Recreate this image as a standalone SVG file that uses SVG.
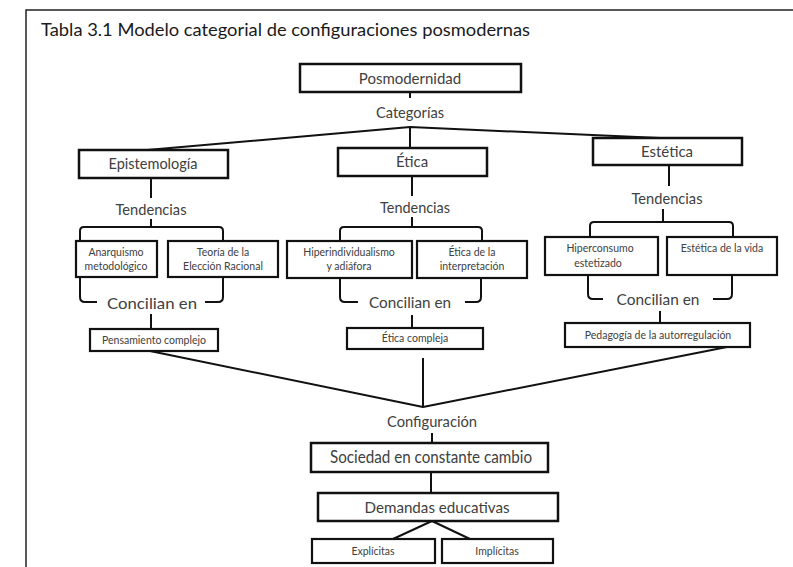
<svg xmlns="http://www.w3.org/2000/svg" width="793" height="567" viewBox="0 0 793 567">
  <style>
    text { font-family: Lato, "Open Sans", "Liberation Sans", sans-serif; fill: #404040; text-anchor: middle; }
    .title { fill: #1a1a1a; text-anchor: start; font-size: 18px; }
    .big { font-size: 15px; }
    .mid { font-size: 16px; }
    .small { font-size: 10.5px; }
    .box { fill: #fff; stroke: #111; stroke-width: 2.5; }
    .sbox { fill: #fff; stroke: #111; stroke-width: 2.2; }
    .wire { fill: none; stroke: #111; stroke-width: 2; stroke-linejoin: round; }
  </style>

  <rect width="793" height="567" fill="#fff"/>
  <!-- outer frame -->
  <path d="M26 567 V10 H793" fill="none" stroke="#222" stroke-width="1.5"/>
  <text class="title" x="41" y="36" textLength="489" lengthAdjust="spacingAndGlyphs">Tabla 3.1 Modelo categorial de configuraciones posmodernas</text>

  <!-- connectors -->
  <g id="connectors" class="wire">
    <path d="M410 92 V98"/>
    <path d="M147 150 L410 127 L660 138"/>
    <path d="M410 127 V148"/>
    <!-- epistemologia column -->
    <path d="M151 178 V198"/>
    <path d="M151 219 V227"/>
    <path d="M80 241 V231 Q80 227 84 227 H219 Q223 227 223 231 V241"/>
    <path d="M80 277 V297 Q80 302 85 302 H97"/>
    <path d="M223 277 V297 Q223 302 218 302 H205"/>
    <path d="M151 314 V329"/>
    <!-- etica column -->
    <path d="M412 176 V196"/>
    <path d="M412 217 V227"/>
    <path d="M340 241 V231 Q340 227 344 227 H478 Q482 227 482 231 V241"/>
    <path d="M340 278 V297 Q340 302 345 302 H358"/>
    <path d="M481 278 V297 Q481 302 476 302 H465"/>
    <path d="M412 315 V328"/>
    <!-- estetica column -->
    <path d="M669 165 V186"/>
    <path d="M663 209 V222"/>
    <path d="M590 237 V226 Q590 222 594 222 H729 Q733 222 733 226 V237"/>
    <path d="M588 275 V294 Q588 299 593 299 H603"/>
    <path d="M732 275 V294 Q732 299 727 299 H713"/>
    <path d="M660 311 V323"/>
    <!-- convergence -->
    <path d="M150 351 L423 407 L727 347"/>
    <path d="M423 358 V407"/>
    <path d="M432 433 V443"/>
    <path d="M431 472 V493"/>
    <path d="M393 539 L432 521 L470 539"/>
  </g>

  <g id="posmodernidad">
    <rect class="box" x="300" y="64" width="221" height="28"/>
    <text class="big" x="410" y="84">Posmodernidad</text>
  </g>
  <g id="categorias">
    <text class="big" x="410" y="118" textLength="68" lengthAdjust="spacingAndGlyphs">Categorías</text>
  </g>

  <g id="epistemologia">
    <rect class="box" x="79" y="150" width="149" height="28"/>
    <text class="big" x="153" y="169" textLength="89" lengthAdjust="spacingAndGlyphs">Epistemología</text>
  </g>
  <g id="tendencias-1">
    <text class="big" x="151" y="215" textLength="71" lengthAdjust="spacingAndGlyphs">Tendencias</text>
  </g>
  <g id="anarquismo">
    <rect class="sbox" x="76" y="241" width="81" height="36"/>
    <text class="small" x="116" y="256">Anarquismo</text>
    <text class="small" x="116" y="270">metodológico</text>
  </g>
  <g id="eleccion-racional">
    <rect class="sbox" x="168" y="241" width="110" height="36"/>
    <text class="small" x="223" y="256">Teoría de la</text>
    <text class="small" x="223" y="270">Elección Racional</text>
  </g>
  <g id="concilian-1">
    <text class="mid" x="152" y="309" textLength="90" lengthAdjust="spacingAndGlyphs">Concilian en</text>
  </g>
  <g id="pensamiento-complejo">
    <rect class="sbox" x="90" y="329" width="128" height="22"/>
    <text class="small" x="154" y="344">Pensamiento complejo</text>
  </g>

  <g id="etica">
    <rect class="box" x="338" y="148" width="149" height="28"/>
    <text class="big" x="412" y="167">Ética</text>
  </g>
  <g id="tendencias-2">
    <text class="big" x="415" y="213" textLength="70" lengthAdjust="spacingAndGlyphs">Tendencias</text>
  </g>
  <g id="hiperindividualismo">
    <rect class="sbox" x="287" y="241" width="125" height="37"/>
    <text class="small" x="349" y="256">Hiperindividualismo</text>
    <text class="small" x="349" y="270">y adiáfora</text>
  </g>
  <g id="etica-interpretacion">
    <rect class="sbox" x="417" y="241" width="110" height="37"/>
    <text class="small" x="472" y="256">Ética de la</text>
    <text class="small" x="472" y="270">interpretación</text>
  </g>
  <g id="concilian-2">
    <text class="mid" x="410" y="308" textLength="82" lengthAdjust="spacingAndGlyphs">Concilian en</text>
  </g>
  <g id="etica-compleja">
    <rect class="sbox" x="347" y="328" width="136" height="21"/>
    <text class="small" x="415" y="342">Ética compleja</text>
  </g>

  <g id="estetica">
    <rect class="box" x="593" y="138" width="149" height="27"/>
    <text class="big" x="667" y="157">Estética</text>
  </g>
  <g id="tendencias-3">
    <text class="big" x="667" y="204" textLength="71" lengthAdjust="spacingAndGlyphs">Tendencias</text>
  </g>
  <g id="hiperconsumo">
    <rect class="sbox" x="545" y="237" width="113" height="38"/>
    <text class="small" x="600" y="252">Hiperconsumo</text>
    <text class="small" x="598" y="267">estetizado</text>
  </g>
  <g id="estetica-vida">
    <rect class="sbox" x="667" y="237" width="110" height="38"/>
    <text class="small" x="722" y="252">Estética de la vida</text>
  </g>
  <g id="concilian-3">
    <text class="mid" x="658" y="305" textLength="83" lengthAdjust="spacingAndGlyphs">Concilian en</text>
  </g>
  <g id="pedagogia">
    <rect class="sbox" x="565" y="323" width="185" height="24"/>
    <text class="small" x="658" y="339">Pedagogía de la autorregulación</text>
  </g>

  <g id="configuracion">
    <text class="big" x="432" y="427" textLength="90" lengthAdjust="spacingAndGlyphs">Configuración</text>
  </g>
  <g id="sociedad">
    <rect class="box" x="311" y="443" width="237" height="29"/>
    <text x="431" y="463" font-size="17" textLength="202" lengthAdjust="spacingAndGlyphs">Sociedad en constante cambio</text>
  </g>
  <g id="demandas">
    <rect class="box" x="318" y="493" width="240" height="28"/>
    <text class="mid" x="437" y="513" textLength="145" lengthAdjust="spacingAndGlyphs">Demandas educativas</text>
  </g>
  <g id="explicitas">
    <rect class="sbox" x="312" y="539" width="123" height="24"/>
    <text class="small" x="373" y="555">Explícitas</text>
  </g>
  <g id="implicitas">
    <rect class="sbox" x="442" y="539" width="111" height="24"/>
    <text class="small" x="497" y="555">Implícitas</text>
  </g>
</svg>
